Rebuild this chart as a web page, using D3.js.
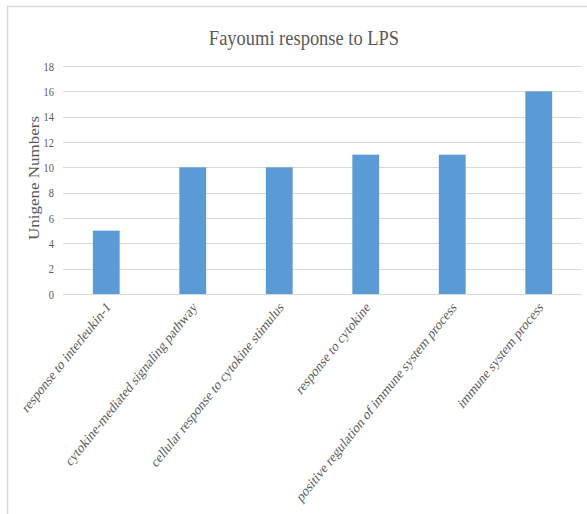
<!DOCTYPE html>
<html>
<head>
<meta charset="utf-8">
<script src="https://cdn.jsdelivr.net/npm/d3@7"></script>
<style>
  body { margin: 0; background: #fff; }
  text { font-family: "Liberation Serif", "Times New Roman", serif; fill: #595959; }
</style>
</head>
<body>
<div id="chart"></div>
<script>
// categories and values
var categories = [
  "response to interleukin-1",
  "cytokine-mediated signaling pathway",
  "cellular response to cytokine stimulus",
  "response to cytokine",
  "positive regulation of immune system process",
  "immune system process"
];
var counts = [5, 10, 10, 11, 11, 16];
var yTicks = [0, 2, 4, 6, 8, 10, 12, 14, 16, 18];

var W = 587, H = 514;
// the original picture is squeezed sideways, so text gets a horizontal scale
var sx = 0.8;
var margin = { top: 66, left: 63 },
  width = 582 - margin.left,
  height = 294 - margin.top;

var svg = d3.select("#chart")
  .append("svg")
  .attr("width", W)
  .attr("height", H);

// chart frame
svg.append("rect")
  .attr("x", 7.5)
  .attr("y", 6.5)
  .attr("width", 600)
  .attr("height", 600)
  .attr("fill", "none")
  .attr("stroke", "#d9d9d9")
  .attr("stroke-width", 1.5);

// title
svg.append("text")
  .attr("transform", "translate(304,45) scale(0.84,1)")
  .attr("text-anchor", "middle")
  .style("font-size", "22px")
  .text("Fayoumi response to LPS");

var g = svg.append("g")
  .attr("transform", "translate(" + margin.left + "," + margin.top + ")");

var x = d3.scaleBand().domain(categories).range([0, width]).paddingInner(0.69).paddingOuter(0.345);
var y = d3.scaleLinear().domain([0, 18]).range([height, 0]);

// gridlines
g.selectAll(".grid")
  .data(yTicks)
  .enter()
  .append("line")
  .attr("x1", 0)
  .attr("x2", width)
  .attr("y1", function (d) { return Math.round(y(d)) + 0.5; })
  .attr("y2", function (d) { return Math.round(y(d)) + 0.5; })
  .attr("stroke", "#d9d9d9")
  .attr("stroke-width", 1);

// y tick labels
g.selectAll(".ytick")
  .data(yTicks)
  .enter()
  .append("text")
  .attr("transform", function (d) {
    return "translate(-9," + (y(d) + 4.5) + ") scale(" + sx + ",1)";
  })
  .attr("text-anchor", "end")
  .style("font-family", "'Liberation Serif', serif")
  .style("font-size", "13px")
  .text(function (d) { return d; });

// bars
g.selectAll(".bar")
  .data(counts)
  .enter()
  .append("rect")
  .attr("x", function (d, i) { return x(categories[i]); })
  .attr("y", function (d) { return y(d); })
  .attr("width", x.bandwidth())
  .attr("height", function (d) { return height - y(d); })
  .attr("fill", "#5b9bd5");

// x labels, rotated
g.selectAll(".xlab")
  .data(categories)
  .enter()
  .append("text")
  .attr("transform", function (d) {
    return "translate(" + (x(d) + x.bandwidth() / 2 + 5) + "," + (height + 14) + ") scale(" + sx + ",1) rotate(-45)";
  })
  .attr("text-anchor", "end")
  .style("font-size", "15px")
  .text(function (d) { return d; });

// y axis title
svg.append("text")
  .attr("transform", "translate(39," + 178 + ") scale(" + sx + ",1) rotate(-90)")
  .attr("text-anchor", "middle")
  .style("font-size", "17px")
  .text("Unigene Numbers");
</script>
</body>
</html>
